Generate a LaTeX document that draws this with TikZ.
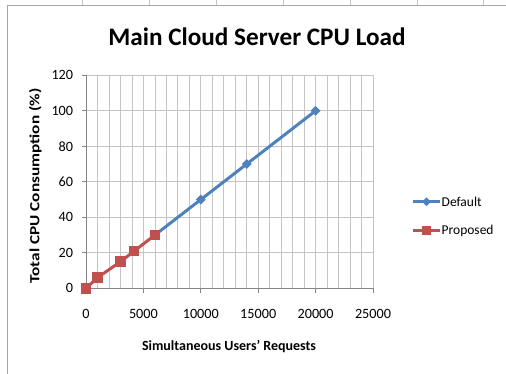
\documentclass[tikz,border=0pt]{standalone}
\usepackage{fontspec}
\setmainfont{Carlito}
\usetikzlibrary{positioning}
\usetikzlibrary{shapes.geometric}

\definecolor{defblue}{HTML}{4F81BD}
\definecolor{propred}{HTML}{C0504D}
\definecolor{gridgray}{HTML}{C4C4C4}
\definecolor{axisgray}{HTML}{868686}
\definecolor{framegray}{HTML}{A6A6A6}

\tikzset{
  gridline/.style={gridgray, line width=0.7pt},
  axisline/.style={axisgray, line width=0.8pt},
  ticklabel/.style={font=\fontsize{14.2}{15}\selectfont, inner sep=0pt},
  legendlabel/.style={font=\fontsize{13.5}{14}\selectfont, inner sep=0pt},
  axistitle/.style={font=\bfseries\fontsize{14}{15}\selectfont, inner sep=0pt},
  defline/.style={defblue, line width=3pt},
  propline/.style={propred, line width=3pt},
  defmark/.style={diamond, fill=defblue, minimum size=10pt, inner sep=0pt},
  propmark/.style={rectangle, fill=propred, minimum size=10.5pt, inner sep=0pt}
}

\begin{document}
\begin{tikzpicture}[x=1pt,y=-1pt]
\useasboundingbox (0,0) rectangle (506,374);

% sheet frame
\draw[framegray, line width=0.8pt] (7.3,374) -- (7.3,5.5) -- (506,5.5);
\foreach \t in {82,149,216,283,350,417,483}
  \draw[gridgray, line width=0.5pt] (\t,0) -- (\t,5.5);

% title
\node[font=\bfseries\fontsize{25.2}{26}\selectfont] (title) at (257,37) {Main Cloud Server CPU Load};

% plot area, x in thousands of requests
\begin{scope}[shift={(86,288.3)}, x=11.48pt, y=1.775pt]
\foreach \i in {1,...,25}
  \draw[gridline] (\i,0) -- (\i,120);
\foreach \v in {20,40,...,120}
  \draw[gridline] (0,\v) -- (25,\v);
\draw[axisline] (0,120) -- (0,0) -- (25,0);

\foreach \v in {0,20,...,120} {
  \draw[axisline] (0,\v) -- ++(-4.5pt,0);
  \node[ticklabel, anchor=east, xshift=-12.7pt] (ylab\v) at (0,\v) {\v};
}
\foreach \k/\lab in {0/0,5/5000,10/10000,15/15000,20/20000,25/25000} {
  \draw[axisline] (\k,0) -- ++(0,-5pt);
  \node[ticklabel, anchor=base, yshift=-29.7pt] (xlab\k) at (\k,0) {\lab};
}

% Default series
\coordinate (d1) at (6,30);
\coordinate (d2) at (10,50);
\coordinate (d3) at (14,70);
\coordinate (d4) at (20,100);
\draw[defline] (d1) -- (d2) -- (d3) -- (d4);
\foreach \n in {1,...,4}
  \node[defmark] (dm\n) at (d\n) {};

% Proposed series
\coordinate (p1) at (0,0);
\coordinate (p2) at (1,6);
\coordinate (p3) at (3,15);
\coordinate (p4) at (4.2,21);
\coordinate (p5) at (6,30);
\draw[propline] (p1) -- (p2) -- (p3) -- (p4) -- (p5);
\foreach \n in {1,...,5}
  \node[propmark] (pm\n) at (p\n) {};
\end{scope}

% axis titles
\node[axistitle, anchor=base] (xtitle) at (229,350) {Simultaneous Users' Requests};
\node[axistitle, anchor=base, rotate=90, xscale=1.23] (ytitle) at (39.3,186) {Total CPU Consumption (\%)};

% legend
\coordinate (la) at (413,201.7);
\coordinate (lb) at (440,201.7);
\draw[defline] (la) -- (lb);
\node[defmark, minimum size=9pt] (legdef) at (426.5,201.7) {};
\node[legendlabel, anchor=west, xshift=1.5pt] (legdeftext) at (lb) {Default};
\coordinate (lc) at (413,231);
\coordinate (ld) at (440,231);
\draw[propline] (lc) -- (ld);
\node[propmark, minimum size=9pt] (legprop) at (426.5,231) {};
\node[legendlabel, anchor=west, xshift=1.5pt] (legproptext) at (ld) {Proposed};
\end{tikzpicture}
\end{document}
